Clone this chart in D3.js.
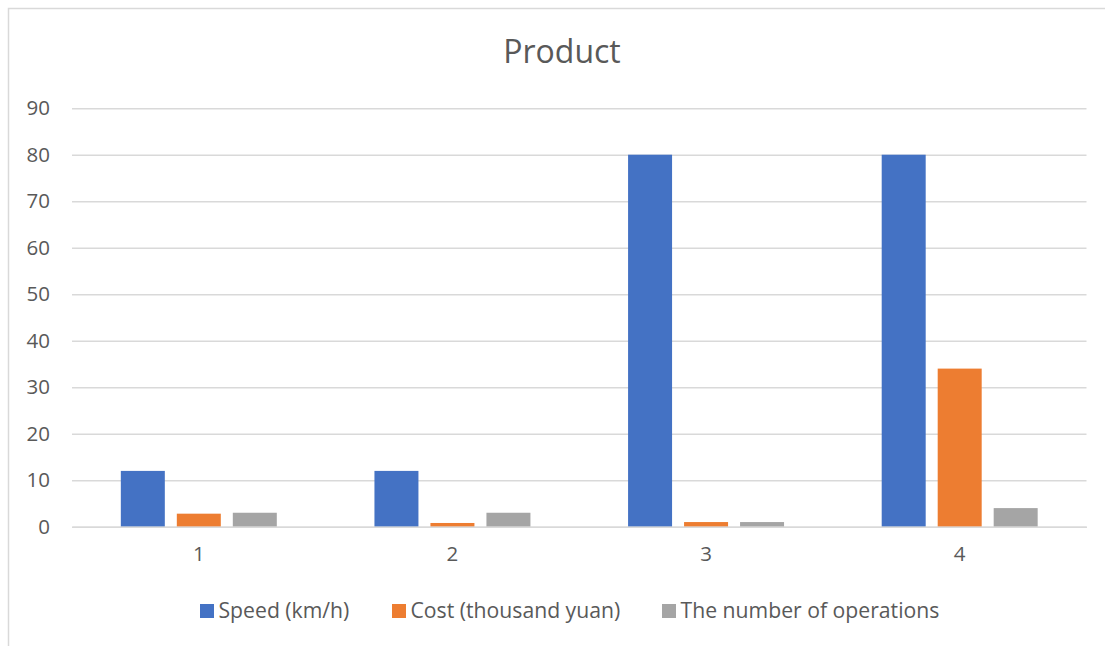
<!DOCTYPE html>
<html>
<head>
<meta charset="utf-8">
<script src="https://cdn.jsdelivr.net/npm/d3@7"></script>
<style>
  html, body { margin: 0; padding: 0; background: #fff; }
  svg { display: block; font-family: "Open Sans", "Noto Sans", sans-serif; }
</style>
</head>
<body>
<svg id="chart" width="1105" height="646"></svg>
<script>
const categories = ["1", "2", "3", "4"];
const seriesNames = ["Speed (km/h)", "Cost (thousand yuan)", "The number of operations"];
const speed = [12, 12, 80, 80];
const cost = [2.8, 0.8, 1.0, 34];
const operations = [3, 3, 1, 4];
const yTicks = [0, 10, 20, 30, 40, 50, 60, 70, 80, 90];
const colors = ["#4472C4", "#ED7D31", "#A5A5A5"];
const title = "Product";

const seriesValues = [speed, cost, operations];
const data = categories.map((c, i) => ({
  cat: c,
  vals: seriesNames.map((s, j) => ({ key: s, value: seriesValues[j][i], color: colors[j] }))
}));

const svg = d3.select("#chart");
const W = 1105, H = 646;
const plot = { left: 72, right: 1086.5, top: 108.2, bottom: 526.7 };

// border
svg.append("rect")
  .attr("x", 8.5).attr("y", 8.5)
  .attr("width", W + 20).attr("height", H + 20)
  .attr("fill", "#fff").attr("stroke", "#d9d9d9").attr("stroke-width", 1.5);

const y = d3.scaleLinear().domain([0, 90]).range([plot.bottom, plot.top]);
const x0 = d3.scaleBand().domain(categories).range([plot.left, plot.right]).padding(0);
const gw = x0.bandwidth();
const x1 = d3.scaleBand().domain(seriesNames)
  .range([gw * 0.1925, gw * 0.8075])
  .paddingInner(0.2143).paddingOuter(0);

// gridlines
const yAxis = d3.axisLeft(y).tickValues(yTicks).tickSize(-(plot.right - plot.left)).tickPadding(22).tickFormat(d3.format("d"));
const gy = svg.append("g").attr("transform", `translate(${plot.left},0)`).call(yAxis);
gy.select(".domain").remove();
gy.selectAll(".tick line").attr("stroke", "#d9d9d9").attr("stroke-width", 1.5);
gy.selectAll(".tick text").attr("fill", "#595959").attr("font-size", 20.5)
  .attr("font-family", "'Open Sans', sans-serif");

// bars
const groups = svg.append("g").selectAll("g").data(data).join("g")
  .attr("transform", d => `translate(${x0(d.cat)},0)`);
groups.selectAll("rect").data(d => d.vals).join("rect")
  .attr("x", d => x1(d.key))
  .attr("width", x1.bandwidth())
  .attr("y", d => y(d.value))
  .attr("height", d => y(0) - y(d.value))
  .attr("fill", d => d.color);

// x axis
const xAxis = d3.axisBottom(x0).tickSize(0).tickPadding(20);
const gx = svg.append("g").attr("transform", `translate(0,${plot.bottom})`).call(xAxis);
gx.select(".domain").attr("stroke", "#d9d9d9").attr("stroke-width", 1.5);
gx.selectAll(".tick text").attr("fill", "#595959").attr("font-size", 20.5)
  .attr("font-family", "'Open Sans', sans-serif");

// title
svg.append("text").attr("x", 562).attr("y", 63)
  .attr("text-anchor", "middle").attr("fill", "#595959")
  .attr("font-size", 32).text(title);

// legend
const legendX = [200, 392, 662];
const lg = svg.append("g").selectAll("g").data(seriesNames).join("g")
  .attr("transform", (d, i) => `translate(${legendX[i]},604)`);
lg.append("rect").attr("width", 14).attr("height", 14).attr("fill", (d, i) => colors[i]);
lg.append("text").attr("x", 18.5).attr("y", 13.5).attr("fill", "#595959")
  .attr("font-size", 21.2).text(d => d);
</script>
</body>
</html>
